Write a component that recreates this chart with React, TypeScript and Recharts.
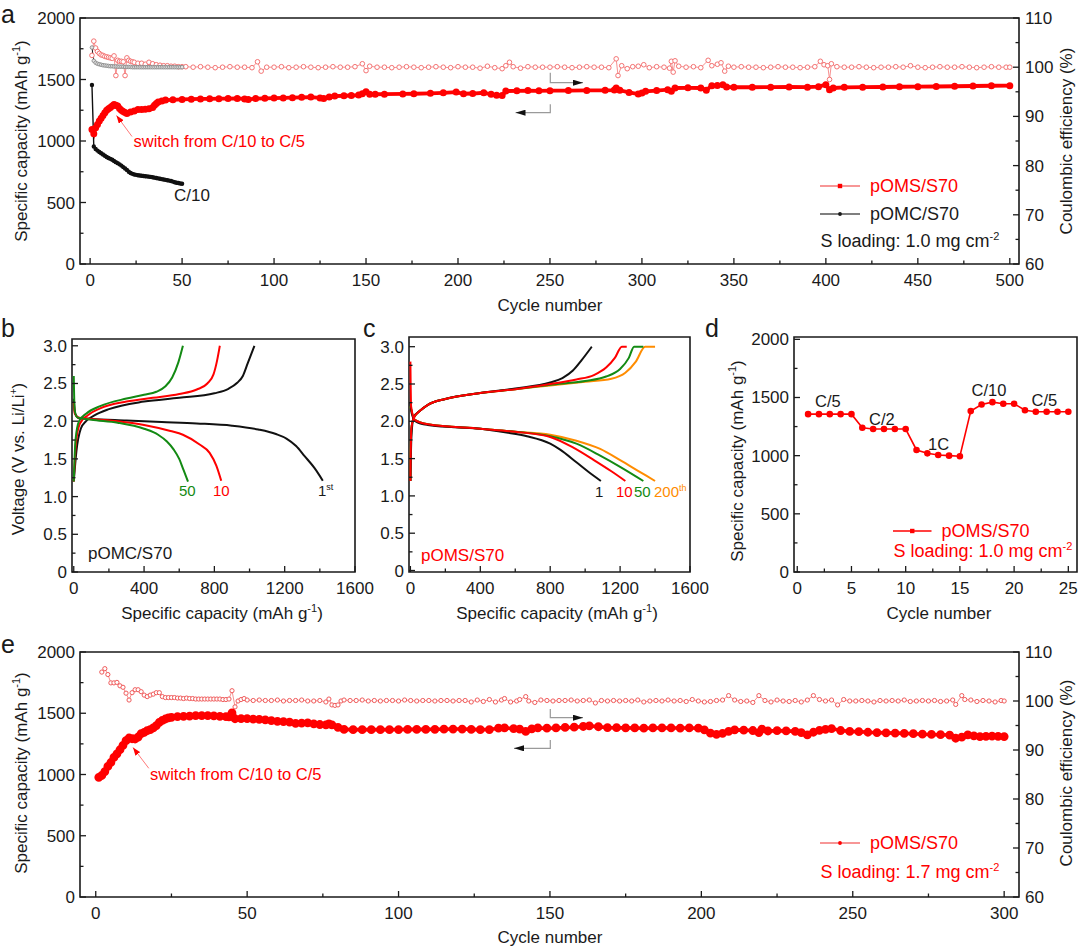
import React from 'react';
import { LineChart, Line, XAxis, YAxis, ReferenceArea, Legend } from 'recharts';

const INK = '#1a1a1a';
const RED = '#ff0000';
const PINK = '#f47373';
const GREEN = '#138a13';
const ORANGE = '#ff8c00';
const FONT = '"Liberation Sans", Arial, Helvetica, sans-serif';

// ---------- a: 500 cycles, 1.0 mg cm-2 ([cycle, value]) ----------
const aOmsCapacity = [
  [1, 1094], [2, 1058], [3, 1107], [4, 1135], [5, 1162], [6, 1185], [7, 1208], [8, 1230], [9, 1250], [10, 1262],
  [11, 1272], [12, 1285], [13, 1297], [14, 1290], [15, 1284], [16, 1265], [17, 1250], [18, 1240], [19, 1232], [20, 1224],
  [22, 1235], [24, 1243], [26, 1257], [28, 1257], [30, 1258], [32, 1262], [34, 1272], [35, 1290], [36, 1305], [37, 1318],
  [39, 1326], [41, 1333], [45, 1335], [50, 1338], [55, 1340], [60, 1342], [65, 1343], [70, 1344], [75, 1345], [80, 1346],
  [84, 1342], [86, 1338], [90, 1345], [95, 1347], [100, 1349], [105, 1350], [110, 1352], [115, 1355], [120, 1357], [125, 1350],
  [127, 1346], [130, 1358], [133, 1365], [138, 1368], [142, 1370], [146, 1373], [148, 1385], [150, 1400], [152, 1380], [155, 1380],
  [160, 1381], [170, 1383], [176, 1384], [185, 1388], [192, 1392], [199, 1398], [203, 1384], [208, 1386], [214, 1392], [218, 1380],
  [221, 1371], [224, 1370], [226, 1406], [232, 1408], [238, 1410], [244, 1408], [250, 1409], [260, 1410], [270, 1411], [280, 1412],
  [285, 1414], [286, 1430], [288, 1412], [293, 1395], [298, 1382], [300, 1390], [302, 1404], [308, 1410], [314, 1417], [316, 1404],
  [318, 1431], [325, 1432], [332, 1431], [335, 1412], [338, 1450], [341, 1452], [344, 1458], [346, 1439], [350, 1437], [360, 1437],
  [370, 1438], [380, 1439], [390, 1438], [396, 1442], [400, 1458], [402, 1417], [404, 1431], [410, 1436], [420, 1438], [431, 1439],
  [440, 1441], [450, 1442], [460, 1443], [470, 1445], [480, 1447], [490, 1449], [500, 1450],
];
const aOmsCE = [
  [1, 102.4], [2, 105.3], [3, 103.9], [4, 103.2], [5, 102.8], [6, 102.5], [7, 102.4], [8, 102.2], [9, 102.1], [10, 102],
  [11, 101.9], [12, 101.8], [13, 102.3], [14, 98.3], [15, 101.4], [16, 101.2], [17, 101.2], [18, 101.1], [19, 98.3], [20, 101.9],
  [21, 101.4], [22, 101.2], [23, 101.1], [24, 101], [26, 100.8], [28, 100.8], [30, 100.6], [32, 101], [34, 100.7], [36, 100.5],
  [38, 100.4], [40, 100.3], [42, 100.3], [44, 100.2], [46, 100.2], [48, 100.1], [50, 100.1], [52, 100.1], [56, 100], [60, 100.1],
  [64, 100], [68, 99.9], [72, 100], [76, 100.1], [80, 100], [84, 100], [88, 99.9], [91, 101.1], [93, 99.2], [96, 100],
  [100, 100], [104, 100.1], [108, 99.9], [112, 100], [116, 100.1], [120, 100], [124, 99.9], [128, 100], [132, 100.1], [136, 100],
  [140, 100], [144, 100.1], [148, 100.7], [150, 99.3], [152, 100.2], [156, 100], [160, 100], [164, 99.9], [168, 100], [172, 100.1],
  [176, 100], [180, 99.9], [184, 100], [188, 100.1], [192, 100], [196, 99.9], [200, 100.1], [204, 100], [208, 100], [212, 99.8],
  [216, 100.2], [220, 99.9], [224, 99.7], [226, 100.3], [228, 101], [230, 100.1], [234, 99.8], [238, 100.1], [242, 100], [246, 100],
  [250, 100], [254, 100.1], [258, 100], [262, 99.9], [266, 100], [270, 100.1], [274, 100], [278, 100], [282, 99.9], [286, 101.7],
  [287, 98.3], [289, 100.3], [292, 99.7], [295, 100.1], [298, 100.2], [301, 100.5], [304, 99.9], [308, 100.1], [312, 100], [315, 99.8],
  [316, 101.2], [317, 99], [318, 101.3], [320, 100.2], [324, 100], [328, 100.1], [332, 99.9], [336, 101.4], [338, 100.3], [341, 100.6],
  [343, 100.9], [345, 99.2], [347, 100.2], [350, 100], [354, 100.1], [358, 100], [362, 100], [366, 99.9], [370, 100], [374, 100.1],
  [378, 100], [382, 100], [386, 99.9], [390, 100], [394, 100.1], [397, 101.2], [399, 100.5], [401, 100.3], [402, 97.5], [403, 100.7],
  [406, 100.1], [410, 100], [414, 100], [418, 100.1], [422, 100], [426, 99.9], [430, 100], [434, 100], [438, 100.1], [442, 100],
  [446, 100.3], [450, 100], [454, 99.9], [458, 100], [462, 100.1], [466, 100], [470, 100], [474, 100.1], [478, 100], [482, 99.9],
  [486, 100], [490, 100.1], [494, 100], [498, 100], [500, 100],
];
const aOmcCapacity = [
  [1, 1455], [2, 955], [3, 935], [4, 922], [5, 910], [6, 900], [7, 890], [8, 880], [9, 870], [10, 862],
  [11, 855], [12, 848], [13, 838], [14, 828], [15, 820], [16, 810], [17, 800], [18, 788], [19, 776], [20, 765],
  [21, 750], [22, 740], [23, 733], [24, 728], [25, 725], [26, 722], [27, 719], [28, 717], [29, 715], [30, 714],
  [31, 712], [32, 710], [33, 708], [34, 705], [35, 702], [36, 699], [37, 696], [38, 693], [39, 690], [40, 687],
  [41, 684], [42, 681], [43, 678], [44, 675], [45, 670], [46, 665], [47, 661], [48, 658], [49, 655], [50, 652],
];
const aOmcCE = [
  [1, 104], [2, 101.3], [3, 100.9], [4, 100.7], [5, 100.6], [6, 100.5], [7, 100.4], [8, 100.35], [9, 100.3], [10, 100.25],
  [11, 100.2], [12, 100.2], [13, 100.15], [14, 100.15], [15, 100.1], [16, 100.1], [17, 100.1], [18, 100.1], [19, 100.05], [20, 100.05],
  [21, 100.05], [22, 100.05], [23, 100], [24, 100], [25, 100], [26, 100], [27, 100], [28, 100], [29, 100], [30, 100],
  [31, 100], [32, 100], [33, 100], [34, 100], [35, 100], [36, 100], [37, 100], [38, 100], [39, 100], [40, 100],
  [41, 100], [42, 100], [43, 100], [44, 100], [45, 100], [46, 100], [47, 100], [48, 100], [49, 100], [50, 100],
];

// ---------- b: pOMC/S70 voltage profiles ([capacity, voltage]) ----------
const bDischarge1 = [[0, 2.3], [8, 2.1], [30, 2.04], [100, 2.03], [300, 2.01], [500, 1.99], [700, 1.97], [900, 1.94], [1050, 1.89], [1150, 1.83], [1210, 1.77], [1265, 1.67], [1312, 1.54], [1369, 1.38], [1417, 1.21]];
const bCharge1 = [[0, 1.2], [15, 1.6], [40, 1.9], [70, 2.0], [120, 2.08], [200, 2.16], [400, 2.26], [600, 2.31], [800, 2.37], [880, 2.43], [930, 2.51], [962, 2.6], [990, 2.77], [1028, 3.0]];
const bDischarge10 = [[0, 2.25], [6, 2.1], [25, 2.05], [100, 2.03], [250, 2.0], [400, 1.95], [550, 1.87], [621, 1.82], [716, 1.69], [773, 1.58], [811, 1.41], [839, 1.21]];
const bCharge10 = [[0, 1.2], [12, 1.7], [35, 1.97], [80, 2.08], [150, 2.17], [300, 2.26], [450, 2.31], [600, 2.36], [700, 2.42], [760, 2.5], [795, 2.62], [815, 2.8], [831, 3.0]];
const bDischarge50 = [[0, 2.6], [5, 2.15], [20, 2.05], [100, 2.02], [250, 1.98], [400, 1.9], [480, 1.82], [530, 1.73], [570, 1.62], [600, 1.5], [625, 1.35], [650, 1.2]];
const bCharge50 = [[0, 1.2], [10, 1.75], [30, 2.0], [70, 2.1], [150, 2.2], [300, 2.3], [400, 2.35], [470, 2.39], [520, 2.46], [560, 2.58], [595, 2.78], [621, 3.0]];

// ---------- c: pOMS/S70 voltage profiles ----------
const cDischarge1 = [[0, 2.25], [8, 2.1], [30, 2.0], [100, 1.95], [250, 1.92], [400, 1.9], [550, 1.85], [667, 1.8], [800, 1.7], [857, 1.62], [950, 1.45], [1020, 1.32], [1090, 1.2]];
const cCharge1 = [[0, 1.2], [6, 1.8], [18, 2.05], [60, 2.15], [100, 2.22], [200, 2.3], [400, 2.38], [600, 2.44], [800, 2.52], [870, 2.58], [930, 2.68], [980, 2.82], [1038, 3.0]];
const cDischarge10 = [[0, 2.8], [4, 2.2], [25, 2.02], [100, 1.96], [400, 1.9], [600, 1.86], [800, 1.79], [930, 1.65], [1050, 1.48], [1150, 1.33], [1230, 1.2]];
const cCharge10 = [[0, 1.2], [5, 1.9], [20, 2.05], [60, 2.15], [100, 2.22], [200, 2.3], [400, 2.38], [600, 2.43], [800, 2.5], [950, 2.56], [1050, 2.62], [1120, 2.72], [1170, 2.85], [1210, 3.0], [1238, 3.0]];
const cDischarge50 = [[0, 2.2], [25, 2.02], [100, 1.96], [400, 1.9], [600, 1.86], [800, 1.8], [950, 1.7], [1086, 1.54], [1200, 1.39], [1333, 1.2]];
const cCharge50 = [[0, 1.2], [5, 1.9], [20, 2.05], [60, 2.15], [100, 2.22], [200, 2.3], [400, 2.38], [600, 2.43], [800, 2.49], [1000, 2.54], [1120, 2.6], [1200, 2.7], [1250, 2.85], [1280, 3.0], [1333, 3.0]];
const cDischarge200 = [[0, 2.2], [25, 2.02], [100, 1.96], [400, 1.9], [600, 1.86], [800, 1.82], [950, 1.74], [1086, 1.63], [1200, 1.48], [1300, 1.34], [1400, 1.2]];
const cCharge200 = [[0, 1.2], [5, 1.9], [20, 2.05], [60, 2.15], [100, 2.22], [200, 2.3], [400, 2.38], [600, 2.43], [800, 2.48], [1000, 2.53], [1150, 2.57], [1230, 2.65], [1290, 2.8], [1343, 3.0], [1400, 3.0]];

// ---------- d: rate test ----------
const dCycles = [1, 2, 3, 4, 5, 6, 7, 8, 9, 10, 11, 12, 13, 14, 15, 16, 17, 18, 19, 20, 21, 22, 23, 24, 25];
const dCapacity = [1357, 1357, 1357, 1357, 1357, 1240, 1229, 1229, 1229, 1229, 1049, 1020, 1006, 1000, 995, 1383, 1440, 1460, 1446, 1446, 1391, 1377, 1377, 1377, 1377];

// ---------- e: 300 cycles, 1.7 mg cm-2 ----------
const eCapacity = [
  [1, 977], [2, 992], [3, 1024], [4, 1066], [5, 1098], [6, 1139], [7, 1169], [8, 1202], [9, 1238], [10, 1276],
  [11, 1298], [12, 1292], [13, 1290], [14, 1306], [15, 1333], [16, 1344], [17, 1358], [18, 1366], [19, 1380], [20, 1399],
  [21, 1426], [22, 1442], [23, 1453], [24, 1462], [25, 1467], [27, 1473], [29, 1475], [31, 1477], [33, 1480], [35, 1481],
  [37, 1480], [39, 1478], [41, 1475], [43, 1472], [44, 1470], [45, 1503], [46, 1455], [48, 1456], [50, 1456], [52, 1452],
  [54, 1450], [56, 1446], [58, 1440], [60, 1434], [62, 1432], [64, 1428], [66, 1418], [68, 1420], [70, 1421], [72, 1414],
  [74, 1408], [76, 1405], [77, 1413], [78, 1405], [80, 1385], [82, 1368], [85, 1366], [88, 1366], [91, 1366], [94, 1366],
  [97, 1366], [100, 1367], [103, 1368], [106, 1368], [109, 1368], [112, 1369], [115, 1370], [118, 1371], [121, 1371], [124, 1368],
  [127, 1366], [130, 1367], [133, 1378], [135, 1380], [138, 1375], [140, 1370], [142, 1352], [144, 1372], [146, 1380], [149, 1378],
  [152, 1380], [155, 1384], [158, 1386], [161, 1392], [163, 1397], [166, 1390], [169, 1383], [172, 1382], [175, 1381], [178, 1380],
  [181, 1378], [184, 1380], [187, 1381], [190, 1380], [193, 1379], [196, 1380], [199, 1378], [201, 1365], [203, 1337], [205, 1328],
  [207, 1335], [209, 1352], [211, 1364], [214, 1362], [217, 1359], [219, 1342], [220, 1370], [222, 1355], [225, 1358], [228, 1356],
  [231, 1352], [233, 1342], [235, 1323], [237, 1345], [239, 1360], [241, 1368], [243, 1375], [246, 1359], [249, 1352], [252, 1350],
  [255, 1345], [258, 1342], [261, 1340], [264, 1338], [267, 1336], [270, 1333], [273, 1329], [276, 1327], [279, 1325], [282, 1322],
  [284, 1296], [286, 1305], [288, 1323], [290, 1315], [292, 1310], [294, 1312], [296, 1313], [298, 1311], [300, 1310],
];
const eCE = [
  [2, 105.9], [3, 106.6], [4, 105.4], [5, 103.7], [6, 103.7], [7, 103.8], [8, 103.1], [9, 102.8], [10, 101.6], [11, 100.2],
  [12, 101.7], [13, 102.3], [14, 102.3], [15, 101.9], [16, 101.2], [17, 100.9], [18, 101.2], [19, 101.4], [20, 101.7], [21, 101.7],
  [22, 100.9], [23, 100.7], [24, 100.7], [25, 100.7], [26, 100.7], [27, 100.6], [28, 100.6], [29, 100.5], [30, 100.6], [31, 100.5],
  [32, 100.5], [33, 100.4], [34, 100.4], [35, 100.4], [36, 100.4], [37, 100.4], [38, 100.4], [39, 100.4], [40, 100.4], [41, 100.4],
  [42, 100.3], [43, 100.3], [44, 100.4], [45, 102.1], [46, 98.8], [47, 100], [48, 100.3], [49, 100.5], [50, 100.2], [52, 100.1],
  [54, 100.2], [56, 100.1], [58, 100.1], [60, 100.2], [62, 100], [64, 100.1], [66, 100.1], [68, 100.2], [70, 100], [72, 100],
  [74, 100.1], [76, 99.8], [77, 100.4], [78, 99.2], [79, 99.1], [80, 99.2], [81, 100], [82, 100.2], [84, 100.1], [86, 100.1],
  [88, 100.2], [90, 100], [92, 100.1], [94, 100], [96, 100.1], [98, 100.1], [100, 100], [102, 100.2], [104, 100.1], [106, 100],
  [108, 100.1], [110, 100.1], [112, 100], [114, 100.1], [116, 100.1], [118, 100], [120, 100.1], [122, 100.1], [124, 99.8], [126, 100.2],
  [128, 99.9], [130, 100.3], [132, 99.8], [134, 100.2], [135, 100.5], [137, 99.8], [139, 100], [140, 100.3], [142, 100.9], [143, 100],
  [145, 99.7], [147, 100.2], [149, 100.1], [151, 100], [153, 100.1], [155, 100.1], [157, 100.2], [159, 100], [161, 100.1], [163, 100.2],
  [165, 99.6], [167, 100.1], [169, 100], [171, 100.1], [173, 100], [175, 100.1], [177, 100], [179, 100.2], [181, 99.8], [183, 100],
  [185, 100.1], [187, 100], [189, 100.2], [191, 100], [193, 100.1], [195, 99.9], [197, 100.3], [199, 100], [201, 99.8], [203, 99.9],
  [205, 100.1], [207, 100.2], [209, 101.1], [211, 100.2], [213, 99.9], [215, 100], [217, 99.7], [219, 101.1], [221, 100.1], [223, 99.8],
  [225, 100.2], [227, 100], [229, 99.9], [231, 100.1], [233, 99.8], [235, 100.2], [237, 101.1], [239, 100.3], [241, 100], [243, 100.2],
  [245, 99.2], [247, 100.3], [249, 100], [251, 100], [253, 100.1], [255, 100], [257, 99.8], [259, 100.1], [261, 100], [263, 100.1],
  [265, 100], [267, 100.2], [269, 99.9], [271, 100], [273, 100.1], [275, 100], [277, 100.1], [279, 99.9], [281, 100], [283, 100.2],
  [284, 99.3], [286, 101.1], [287, 100.3], [289, 100.2], [291, 99.9], [293, 100.1], [295, 100], [297, 99.8], [299, 100.1], [300, 100],
];

// ---------- ticks ----------
const capMajor = [0, 500, 1000, 1500, 2000];
const capMinor = [250, 750, 1250, 1750];
const ceMajor = [60, 70, 80, 90, 100, 110];
const ceMinor = [65, 75, 85, 95, 105];
const aXMajor = [0, 50, 100, 150, 200, 250, 300, 350, 400, 450, 500];
const aXMinor = [25, 75, 125, 175, 225, 275, 325, 375, 425, 475];
const eXMajor = [0, 50, 100, 150, 200, 250, 300];
const eXMinor = [25, 75, 125, 175, 225, 275];
const vMajor = [0, 0.5, 1, 1.5, 2, 2.5, 3];
const vMinor = [0.25, 0.75, 1.25, 1.75, 2.25, 2.75];
const qMajor = [0, 400, 800, 1200, 1600];
const qMinor = [200, 600, 1000, 1400];
const dXMajor = [0, 5, 10, 15, 20, 25];
const dXMinor = [2.5, 7.5, 12.5, 17.5, 22.5];

const pts = (arr: number[][]) => arr.map(([c, v]) => ({ c, v }));
const dData = dCycles.map((c, i) => ({ c, v: dCapacity[i] }));
const all = (a: number[], b: number[]) => [...a, ...b].sort((p, q) => p - q);
const vFmt = (v: number) => (v === 0 ? '0' : v.toFixed(1));

// inward ticks, labels only on majors
function makeTick(side: 'bottom' | 'left' | 'right', majors: number[], fmt: (v: number) => string = String) {
  return (props: any) => {
    const { x, y, payload } = props;
    const v = payload.value;
    const major = majors.some((m) => Math.abs(m - v) < 1e-9);
    const len = major ? 6 : 3.5;
    if (side === 'bottom') {
      return (
        <g>
          <line x1={x} y1={y} x2={x} y2={y - len} stroke={INK} strokeWidth={1.3} />
          {major && <text x={x} y={y + 21.5} textAnchor="middle" fontSize={17} fill={INK}>{fmt(v)}</text>}
        </g>
      );
    }
    const dir = side === 'left' ? 1 : -1;
    return (
      <g>
        <line x1={x} y1={y} x2={x + dir * len} y2={y} stroke={INK} strokeWidth={1.3} />
        {major && (
          <text x={side === 'left' ? x - 5 : x + 6} y={y + 6} textAnchor={side === 'left' ? 'end' : 'start'} fontSize={17} fill={INK}>
            {fmt(v)}
          </text>
        )}
      </g>
    );
  };
}

const axisBase = { tickSize: 0, tickMargin: 0, tickLine: false, axisLine: false, interval: 0 as const, allowDataOverflow: true };

// raised small text, optionally followed by normal text back on the baseline
function Sup({ children, size = 11, up = 7, after, baseSize = 17 }: any) {
  return (
    <>
      <tspan dy={-up} fontSize={size}>{children}</tspan>
      {after !== undefined && <tspan dy={up} fontSize={baseSize}>{after}</tspan>}
    </>
  );
}

function Txt({ x, y, size = 17, color = INK, anchor = 'start', rot = 0, children }: any) {
  return (
    <text x={x} y={y} dy={size * 0.35} fontSize={size} fill={color} textAnchor={anchor} transform={rot ? `rotate(${rot} ${x} ${y})` : undefined}>
      {children}
    </text>
  );
}

function LegendBox({ rows }: { rows: { label: React.ReactNode; color: string; line?: string; marker?: 'square' | 'dot'; y: number; lineEnd?: number }[] }) {
  return (
    <svg width={230} height={84} style={{ overflow: 'visible', fontFamily: FONT }}>
      {rows.map((r, i) => (
        <g key={i}>
          {r.line && (
            <>
              <line x1={5} y1={r.y} x2={r.lineEnd ?? 45} y2={r.y} stroke={r.line} strokeWidth={1.6} />
              {r.marker === 'square' ? (
                <rect x={(5 + (r.lineEnd ?? 45)) / 2 - 2.2} y={r.y - 2.2} width={4.4} height={4.4} fill={r.color} />
              ) : (
                <circle cx={(5 + (r.lineEnd ?? 45)) / 2} cy={r.y} r={1.9} fill={r.color} />
              )}
            </>
          )}
          <text x={r.line ? (r.lineEnd ?? 45) + 10 : 5.5} y={r.y + 6.3} fontSize={18} fill={r.color}>{r.label}</text>
        </g>
      ))}
    </svg>
  );
}

function PanelA() {
  return (
    <LineChart width={1080} height={320} margin={{ top: 18, right: 0, bottom: 0, left: 0 }}>
      <XAxis type="number" dataKey="c" domain={[-5.5, 505]} ticks={all(aXMajor, aXMinor)} height={56} tick={makeTick('bottom', aXMajor)} {...axisBase} />
      <YAxis yAxisId="cap" domain={[0, 2000]} ticks={all(capMajor, capMinor)} width={80} tick={makeTick('left', capMajor)} {...axisBase} />
      <YAxis yAxisId="ce" orientation="right" domain={[60, 110]} ticks={all(ceMajor, ceMinor)} width={61} tick={makeTick('right', ceMajor)} {...axisBase} />
      <ReferenceArea yAxisId="cap" x1={-5.5} x2={505} y1={0} y2={2000} fill="none" stroke={INK} strokeWidth={1.6} />
      <Line yAxisId="ce" data={pts(aOmsCE)} dataKey="v" stroke={PINK} strokeWidth={0.8} dot={{ r: 2.3, fill: '#fff', stroke: PINK, strokeWidth: 1 }} isAnimationActive={false} />
      <Line yAxisId="ce" data={pts(aOmcCE)} dataKey="v" stroke="#222" strokeWidth={1} dot={{ r: 1.8, fill: '#e4e4e4', stroke: '#8a8a8a', strokeWidth: 0.9 }} isAnimationActive={false} />
      <Line yAxisId="cap" data={pts(aOmsCapacity)} dataKey="v" stroke={RED} strokeWidth={3.8} dot={{ r: 1.6, fill: RED, stroke: RED }} isAnimationActive={false} />
      <Line yAxisId="cap" data={pts(aOmcCapacity)} dataKey="v" stroke="#111" strokeWidth={1.4} dot={{ r: 1.5, fill: '#111', stroke: '#111' }} isAnimationActive={false} />
      <Legend
        layout="vertical"
        align="center"
        verticalAlign="middle"
        wrapperStyle={{ left: 815, top: 172, width: 230, height: 84 }}
        content={() => (
          <LegendBox
            rows={[
              { label: 'pOMS/S70', color: RED, line: PINK, marker: 'square', y: 14 },
              { label: 'pOMC/S70', color: INK, line: '#555', marker: 'dot', y: 42 },
              { label: <>S loading: 1.0 mg cm<Sup>-2</Sup></>, color: INK, y: 69 },
            ]}
          />
        )}
      />
    </LineChart>
  );
}

function PanelB() {
  const series: [number[][], string][] = [
    [bDischarge1, '#111'], [bCharge1, '#111'], [bDischarge10, RED], [bCharge10, RED], [bDischarge50, GREEN], [bCharge50, GREEN],
  ];
  return (
    <LineChart width={385} height={310} margin={{ top: 19, right: 30, bottom: 0, left: 0 }}>
      <XAxis type="number" dataKey="c" domain={[-10, 1600]} ticks={all(qMajor, qMinor)} height={58} tick={makeTick('bottom', qMajor)} {...axisBase} />
      <YAxis domain={[0, 3.09]} ticks={all(vMajor, vMinor)} width={72} tick={makeTick('left', vMajor, vFmt)} {...axisBase} />
      <ReferenceArea x1={-10} x2={1600} y1={0} y2={3.09} fill="none" stroke={INK} strokeWidth={1.6} />
      {series.map(([d, col], i) => (
        <Line key={i} type="monotone" data={pts(d)} dataKey="v" stroke={col} strokeWidth={2} dot={false} isAnimationActive={false} />
      ))}
    </LineChart>
  );
}

function PanelC() {
  const series: [number[][], string][] = [
    [cDischarge200, ORANGE], [cCharge200, ORANGE], [cDischarge50, GREEN], [cCharge50, GREEN],
    [cDischarge1, '#111'], [cCharge1, '#111'], [cDischarge10, RED], [cCharge10, RED],
  ];
  return (
    <LineChart width={360} height={310} margin={{ top: 17, right: 35, bottom: 0, left: 0 }}>
      <XAxis type="number" dataKey="c" domain={[-8, 1600]} ticks={all(qMajor, qMinor)} height={58} tick={makeTick('bottom', qMajor)} {...axisBase} />
      <YAxis domain={[-0.02, 3.13]} ticks={all(vMajor, vMinor)} width={44} tick={makeTick('left', vMajor, vFmt)} {...axisBase} />
      <ReferenceArea x1={-8} x2={1600} y1={-0.02} y2={3.13} fill="none" stroke={INK} strokeWidth={1.6} />
      {series.map(([d, col], i) => (
        <Line key={i} type="monotone" data={pts(d)} dataKey="v" stroke={col} strokeWidth={2} dot={false} isAnimationActive={false} />
      ))}
    </LineChart>
  );
}

function PanelD() {
  return (
    <LineChart width={375} height={310} data={dData} margin={{ top: 17, right: 3, bottom: 0, left: 0 }}>
      <XAxis type="number" dataKey="c" domain={[-0.3, 25.8]} ticks={all(dXMajor, dXMinor)} height={58} tick={makeTick('bottom', dXMajor)} {...axisBase} />
      <YAxis domain={[0, 2020]} ticks={all(capMajor, capMinor)} width={89} tick={makeTick('left', capMajor)} {...axisBase} />
      <ReferenceArea x1={-0.3} x2={25.8} y1={0} y2={2020} fill="none" stroke={INK} strokeWidth={1.6} />
      <Line dataKey="v" stroke={RED} strokeWidth={1.6} dot={{ r: 2.5, fill: RED, stroke: RED }} isAnimationActive={false} />
      <Legend
        layout="vertical"
        align="center"
        verticalAlign="middle"
        wrapperStyle={{ left: 183, top: 197, width: 230, height: 60 }}
        content={() => (
          <LegendBox
            rows={[
              { label: 'pOMS/S70', color: RED, line: RED, marker: 'square', y: 14, lineEnd: 43.5 },
              { label: <>S loading: 1.0 mg cm<Sup>-2</Sup></>, color: RED, y: 33.5 },
            ]}
          />
        )}
      />
    </LineChart>
  );
}

function PanelE() {
  return (
    <LineChart width={1080} height={320} margin={{ top: 22, right: 0, bottom: 0, left: 0 }}>
      <XAxis type="number" dataKey="c" domain={[-5.2, 304.9]} ticks={all(eXMajor, eXMinor)} height={53} tick={makeTick('bottom', eXMajor)} {...axisBase} />
      <YAxis yAxisId="cap" domain={[0, 2000]} ticks={all(capMajor, capMinor)} width={80} tick={makeTick('left', capMajor)} {...axisBase} />
      <YAxis yAxisId="ce" orientation="right" domain={[60, 110]} ticks={all(ceMajor, ceMinor)} width={61} tick={makeTick('right', ceMajor)} {...axisBase} />
      <ReferenceArea yAxisId="cap" x1={-5.2} x2={304.9} y1={0} y2={2000} fill="none" stroke={INK} strokeWidth={1.6} />
      <Line yAxisId="ce" data={pts(eCE)} dataKey="v" stroke={PINK} strokeWidth={0.8} dot={{ r: 2.1, fill: '#fff', stroke: '#f05a5a', strokeWidth: 1 }} isAnimationActive={false} />
      <Line yAxisId="cap" data={pts(eCapacity)} dataKey="v" stroke={RED} strokeWidth={3.6} dot={{ r: 2.6, fill: RED, stroke: RED }} isAnimationActive={false} />
      <Legend
        layout="vertical"
        align="center"
        verticalAlign="middle"
        wrapperStyle={{ left: 815, top: 199, width: 230, height: 60 }}
        content={() => (
          <LegendBox
            rows={[
              { label: 'pOMS/S70', color: RED, line: PINK, marker: 'dot', y: 14 },
              { label: <>S loading: 1.7 mg cm<Sup>-2</Sup></>, color: RED, y: 42.5 },
            ]}
          />
        )}
      />
    </LineChart>
  );
}

function Overlay() {
  const capTitle = (x: number, y: number) => (
    <Txt x={x} y={y} rot={-90} anchor="middle">
      Specific capacity (mAh g<Sup after=")">-1</Sup>
    </Txt>
  );
  return (
    <svg width={1080} height={950} style={{ position: 'absolute', left: 0, top: 0, pointerEvents: 'none', fontFamily: FONT }}>
      <defs>
        <marker id="headK" viewBox="0 0 10 6" refX="10" refY="3" markerWidth="10" markerHeight="6" markerUnits="userSpaceOnUse" orient="auto">
          <path d="M0,0 L10,3 L0,6 z" fill="#111" />
        </marker>
        <marker id="headR" viewBox="0 0 8 6" refX="8" refY="3" markerWidth="8" markerHeight="6" markerUnits="userSpaceOnUse" orient="auto">
          <path d="M0,0 L8,3 L0,6 z" fill={RED} />
        </marker>
      </defs>

      {/* panel letters */}
      <Txt x={1} y={14} size={25}>a</Txt>
      <Txt x={1} y={328} size={25}>b</Txt>
      <Txt x={363} y={328} size={25}>c</Txt>
      <Txt x={705} y={328} size={25}>d</Txt>
      <Txt x={1} y={644} size={25}>e</Txt>

      {/* a */}
      {capTitle(21, 141)}
      <Txt x={1066} y={141} rot={-90} anchor="middle">Coulombic efficiency (%)</Txt>
      <Txt x={550} y={305} anchor="middle">Cycle number</Txt>
      <Txt x={133.5} y={141.5} size={16.5} color={RED}>switch from C/10 to C/5</Txt>
      <line x1={132} y1={136.5} x2={116.5} y2={115.5} stroke="#ff6a6a" strokeWidth={0.9} markerEnd="url(#headR)" />
      <Txt x={174} y={195}>C/10</Txt>
      <path d="M550.3,72.7 V82.7 H583" fill="none" stroke="#9a9a9a" strokeWidth={1.2} markerEnd="url(#headK)" />
      <path d="M550.3,104.3 V112.7 H515.5" fill="none" stroke="#9a9a9a" strokeWidth={1.2} markerEnd="url(#headK)" />

      {/* b */}
      <Txt x={18.5} y={459} rot={-90} anchor="middle">
        Voltage (V vs. Li/Li<Sup size={10} after=")">+</Sup>
      </Txt>
      <Txt x={222} y={613} anchor="middle">
        Specific capacity (mAh g<Sup after=")">-1</Sup>
      </Txt>
      <Txt x={179} y={491} size={15} color={GREEN}>50</Txt>
      <Txt x={213} y={491} size={15} color={RED}>10</Txt>
      <Txt x={318} y={491} size={15}>1<Sup size={9} up={6}>st</Sup></Txt>
      <Txt x={88} y={553} size={17}>pOMC/S70</Txt>

      {/* c */}
      <Txt x={557} y={613} anchor="middle">
        Specific capacity (mAh g<Sup after=")">-1</Sup>
      </Txt>
      <Txt x={595} y={491.5} size={15}>1</Txt>
      <Txt x={616} y={491.5} size={15} color={RED}>10</Txt>
      <Txt x={634} y={491.5} size={15} color={GREEN}>50</Txt>
      <Txt x={654} y={491.5} size={15} color={ORANGE}>200<Sup size={9} up={6}>th</Sup></Txt>
      <Txt x={421} y={555} size={17} color={RED}>pOMS/S70</Txt>

      {/* d */}
      {capTitle(737, 461)}
      <Txt x={939} y={613} anchor="middle">Cycle number</Txt>
      <Txt x={815} y={401.5} size={16.5}>C/5</Txt>
      <Txt x={869} y={419} size={16.5}>C/2</Txt>
      <Txt x={928} y={444} size={16.5}>1C</Txt>
      <Txt x={971.5} y={390} size={16.5}>C/10</Txt>
      <Txt x={1031.5} y={400} size={16.5}>C/5</Txt>

      {/* e */}
      {capTitle(21, 773)}
      <Txt x={1066} y={773} rot={-90} anchor="middle">Coulombic efficiency (%)</Txt>
      <Txt x={550} y={937} anchor="middle">Cycle number</Txt>
      <Txt x={150} y={774} size={16.5} color={RED}>switch from C/10 to C/5</Txt>
      <line x1={148.8} y1={768.3} x2={133} y2={747.5} stroke="#ff6a6a" strokeWidth={0.9} markerEnd="url(#headR)" />
      <path d="M550.3,709 V717.7 H583" fill="none" stroke="#9a9a9a" strokeWidth={1.2} markerEnd="url(#headK)" />
      <path d="M550.3,740 V748.3 H514" fill="none" stroke="#9a9a9a" strokeWidth={1.2} markerEnd="url(#headK)" />
    </svg>
  );
}

export default function App() {
  return (
    <div style={{ position: 'absolute', left: 0, top: 0, width: 1080, height: 950, background: '#fff', fontFamily: FONT, color: INK }}>
      <div style={{ position: 'absolute', left: 0, top: 0 }}><PanelA /></div>
      <div style={{ position: 'absolute', left: 0, top: 320 }}><PanelB /></div>
      <div style={{ position: 'absolute', left: 365, top: 320 }}><PanelC /></div>
      <div style={{ position: 'absolute', left: 705, top: 320 }}><PanelD /></div>
      <div style={{ position: 'absolute', left: 0, top: 630 }}><PanelE /></div>
      <Overlay />
    </div>
  );
}
